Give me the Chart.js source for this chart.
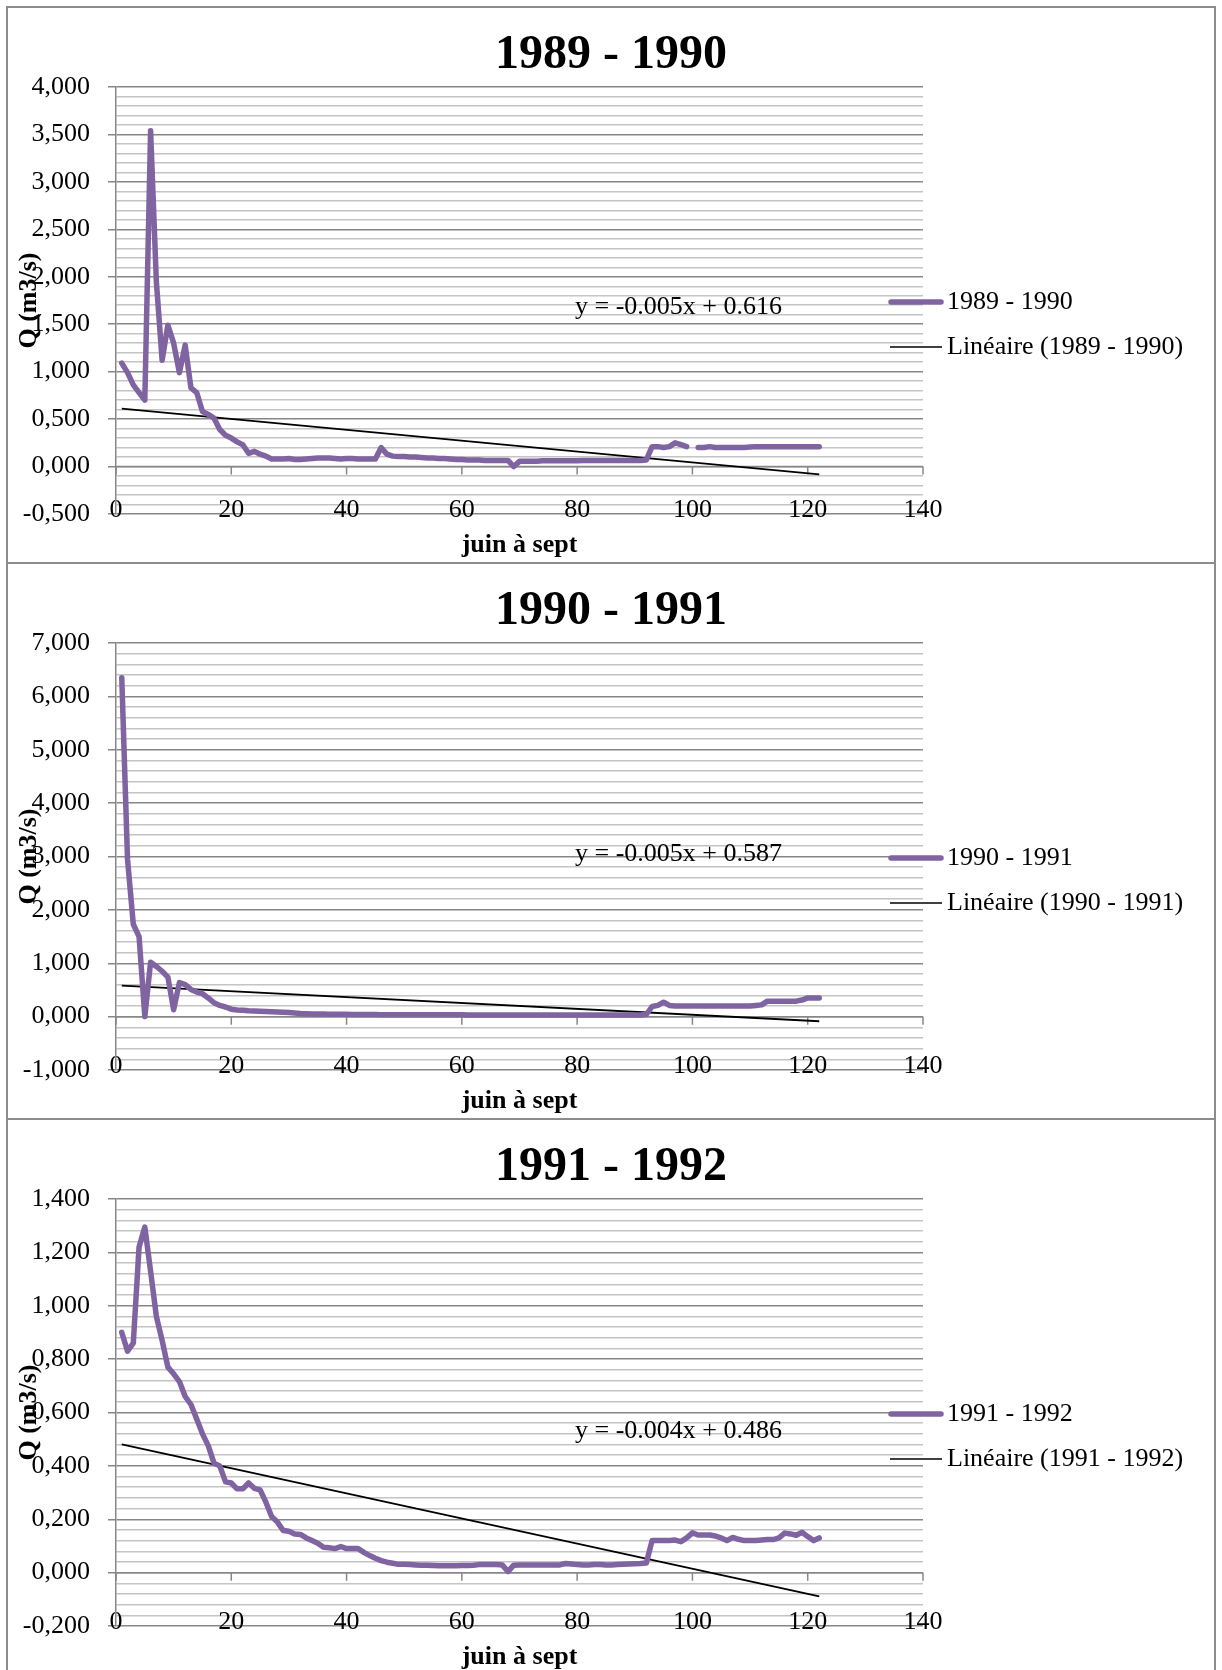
<!DOCTYPE html>
<html>
<head>
<meta charset="utf-8">
<script src="https://cdn.jsdelivr.net/npm/chart.js@4.4.1/dist/chart.umd.min.js"></script>
<style>
body{margin:0;background:#fff;width:1222px;height:1670px;position:relative;overflow:hidden}
.panel{position:absolute;left:6px;width:1210px;height:558px;border:2px solid #8c8c8c;box-sizing:border-box}
canvas{position:absolute;left:0}
</style>
</head>
<body>
<div class="panel" style="top:6px"></div>
<div class="panel" style="top:562px"></div>
<div class="panel" style="top:1118px"></div>
<canvas id="c1" width="1222" height="556" style="top:7px"></canvas>
<canvas id="c2" width="1222" height="556" style="top:563px"></canvas>
<canvas id="c3" width="1222" height="556" style="top:1119px"></canvas>
<script>
// days of june to september (x axis)
let days=[];
for(let d=1;d<=122;d++) days.push(d);
const xTickValues=[0,20,40,60,80,100,120,140];

// debit Q (m3/s), one value per day
const q8990=[
 1.09,0.99,0.86,0.78,0.70,3.54,1.95,1.12,1.49,1.30,
 0.99,1.28,0.83,0.78,0.58,0.55,0.51,0.39,0.33,0.30,
 0.26,0.23,0.14,0.16,0.13,0.11,0.08,0.08,0.08,0.085,
 0.075,0.075,0.08,0.085,0.09,0.09,0.09,0.085,0.08,0.085,
 0.085,0.08,0.08,0.08,0.08,0.20,0.13,0.11,0.105,0.105,
 0.10,0.10,0.095,0.09,0.09,0.085,0.085,0.08,0.075,0.075,
 0.07,0.07,0.07,0.065,0.065,0.065,0.065,0.065,0.0,0.055,
 0.055,0.055,0.055,0.06,0.06,0.06,0.06,0.06,0.06,0.06,
 0.065,0.065,0.065,0.065,0.065,0.065,0.065,0.065,0.065,0.065,
 0.065,0.07,0.21,0.21,0.20,0.21,0.25,0.23,0.21,null,
 0.20,0.20,0.21,0.20,0.20,0.20,0.20,0.20,0.20,0.205,
 0.21,0.21,0.21,0.21,0.21,0.21,0.21,0.21,0.21,0.21,
 0.21,0.21
];
const q9091=[
 6.35,2.95,1.73,1.5,0.0,1.02,0.94,0.85,0.74,0.13,
 0.64,0.60,0.51,0.46,0.43,0.35,0.26,0.21,0.18,0.14,
 0.125,0.12,0.11,0.105,0.10,0.095,0.09,0.085,0.08,0.075,
 0.07,0.06,0.055,0.05,0.05,0.05,0.045,0.045,0.045,0.045,
 0.04,0.04,0.04,0.04,0.04,0.035,0.035,0.035,0.035,0.035,
 0.035,0.035,0.035,0.035,0.035,0.035,0.035,0.035,0.035,0.035,
 0.03,0.03,0.03,0.03,0.03,0.03,0.03,0.03,0.03,0.03,
 0.03,0.03,0.03,0.03,0.03,0.03,0.03,0.03,0.03,0.03,
 0.03,0.03,0.03,0.03,0.03,0.03,0.03,0.03,0.03,0.03,
 0.03,0.04,0.19,0.21,0.27,0.21,0.20,0.20,0.20,0.20,
 0.20,0.20,0.20,0.20,0.20,0.20,0.20,0.20,0.20,0.20,
 0.21,0.22,0.29,0.29,0.29,0.29,0.29,0.29,0.31,0.35,
 0.35,0.35
];
const q9192=[
 0.90,0.83,0.86,1.22,1.295,1.13,0.96,0.87,0.77,0.745,
 0.716,0.66,0.63,0.576,0.52,0.476,0.41,0.40,0.34,0.336,
 0.314,0.314,0.336,0.316,0.31,0.264,0.21,0.19,0.158,0.155,
 0.145,0.143,0.13,0.12,0.11,0.095,0.093,0.09,0.098,0.09,
 0.09,0.09,0.076,0.064,0.054,0.045,0.039,0.035,0.031,0.031,
 0.030,0.029,0.028,0.028,0.027,0.026,0.026,0.026,0.026,0.027,
 0.027,0.028,0.03,0.03,0.03,0.03,0.029,0.004,0.028,0.029,
 0.029,0.029,0.029,0.029,0.029,0.029,0.029,0.034,0.032,0.03,
 0.029,0.029,0.03,0.03,0.029,0.029,0.03,0.031,0.032,0.033,
 0.034,0.036,0.12,0.12,0.12,0.12,0.122,0.116,0.13,0.149,
 0.141,0.141,0.141,0.137,0.13,0.12,0.132,0.125,0.12,0.12,
 0.12,0.122,0.124,0.124,0.13,0.148,0.145,0.14,0.151,0.135,
 0.12,0.13
];

// linear trend lines, ends read at day 1 and day 122
const trendDays=[1,122];
const trend8990=[0.611,-0.082];
const trend9091=[0.582,-0.087];
const trend9192=[0.481,-0.089];

const purple='#8064a2';
const majorGrid='#878787';
const minorGrid='#c4c4c4';

Chart.defaults.font.family="'Liberation Serif','Times New Roman',serif";
Chart.defaults.font.size=26;
Chart.defaults.color='#000';

function pts(xs,ys){
    return xs.map((x,i)=>({x:x,y:ys[i]}));
}

// axis line at y=0 with its tick marks, legend and equation
const extras={
    id:'extras',
    beforeDatasetsDraw(chart){
        let ctx=chart.ctx, xs=chart.scales.x, ys=chart.scales.y;
        let y0=ys.getPixelForValue(0);
        ctx.save();
        ctx.strokeStyle=majorGrid;
        ctx.lineWidth=1.5;
        ctx.beginPath();
        ctx.moveTo(xs.left,y0);
        ctx.lineTo(xs.right,y0);
        xTickValues.forEach(v=>{
            let x=xs.getPixelForValue(v);
            ctx.moveTo(x,y0);
            ctx.lineTo(x,y0+8);
        });
        ctx.stroke();
        ctx.restore();
    },
    afterDraw(chart,args,o){
        let ctx=chart.ctx;
        ctx.save();
        ctx.lineCap='round';
        ctx.strokeStyle=purple;
        ctx.lineWidth=5.5;
        ctx.beginPath();ctx.moveTo(891,295);ctx.lineTo(941,295);ctx.stroke();
        ctx.lineCap='butt';
        ctx.strokeStyle='#000';
        ctx.lineWidth=1.5;
        ctx.beginPath();ctx.moveTo(890,340);ctx.lineTo(942,340);ctx.stroke();
        ctx.fillStyle='#000';
        ctx.font="26px 'Liberation Serif'";
        ctx.textBaseline='middle';
        ctx.textAlign='left';
        ctx.fillText(o.name,947,295);
        ctx.fillText('Linéaire ('+o.name+')',947,340);
        ctx.fillText(o.equation,575,o.eqY);
        ctx.restore();
    }
};

function makeChart(id,name,values,trend,yMin,yMax,minor,major,equation,eqY){
    let isMajor=v=>Math.abs(v/major-Math.round(v/major))<1e-6;
    let fmt=v=>{
        let r=Math.round(v/major)*major;
        if(Math.abs(r)<1e-9) r=0;
        return r.toFixed(3).replace('.',',');
    };
    return new Chart(document.getElementById(id),{
        type:'line',
        data:{
            datasets:[{
                label:name,
                data:pts(days,values),
                borderColor:purple,
                borderWidth:5.5,
                borderCapStyle:'round',
                borderJoinStyle:'round',
                pointRadius:0,
                tension:0,
                spanGaps:false
            },{
                label:'Linéaire ('+name+')',
                data:pts(trendDays,trend),
                borderColor:'#000',
                borderWidth:1.8,
                pointRadius:0
            }]
        },
        options:{
            responsive:false,
            animation:false,
            events:[],
            layout:{padding:0},
            plugins:{
                legend:{display:false},
                tooltip:{enabled:false},
                title:{
                    display:true,
                    text:name,
                    font:{size:48,weight:'bold'},
                    padding:{top:20,bottom:2.4}
                },
                extras:{name:name,equation:equation,eqY:eqY}
            },
            scales:{
                x:{
                    type:'linear',
                    min:0,max:140,
                    grid:{display:false,drawTicks:false},
                    border:{display:false},
                    ticks:{stepSize:20,mirror:true,padding:-12,maxRotation:0,autoSkip:false},
                    title:{display:true,text:'juin à sept',font:{size:26,weight:'bold'},padding:{top:0,bottom:2.4}},
                    afterFit:s=>{s.height=49;}
                },
                y:{
                    min:yMin,max:yMax,
                    grid:{
                        color:c=>isMajor(c.tick.value)?majorGrid:minorGrid,
                        tickColor:c=>isMajor(c.tick.value)?majorGrid:'rgba(0,0,0,0)',
                        lineWidth:1.5,
                        tickLength:8
                    },
                    border:{display:true,color:majorGrid,width:1.5},
                    ticks:{
                        stepSize:minor,
                        maxTicksLimit:200,
                        autoSkip:false,
                        padding:18,
                        callback:v=>isMajor(v)?fmt(v):''
                    },
                    title:{display:true,text:'Q (m3/s)',font:{size:26,weight:'bold'},padding:{top:14,bottom:0}},
                    afterFit:s=>{s.width=116;}
                },
                // empty right side, keeps room for the legend
                side:{
                    type:'linear',
                    position:'right',
                    min:0,max:1,
                    grid:{display:false,drawTicks:false},
                    border:{display:false},
                    ticks:{display:false},
                    afterFit:s=>{s.width=299;}
                }
            }
        },
        plugins:[extras]
    });
}

makeChart('c1','1989 - 1990',q8990,trend8990,-0.5,4,0.1,0.5,'y = -0.005x + 0.616',300);
makeChart('c2','1990 - 1991',q9091,trend9091,-1,7,0.2,1,'y = -0.005x + 0.587',291);
makeChart('c3','1991 - 1992',q9192,trend9192,-0.2,1.4,0.04,0.2,'y = -0.004x + 0.486',312);
</script>
</body>
</html>
